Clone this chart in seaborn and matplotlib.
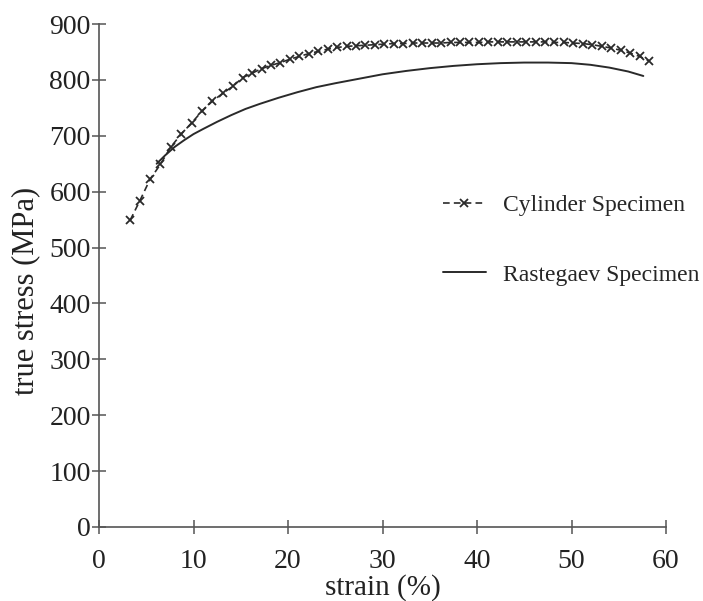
import matplotlib
matplotlib.use("Agg")
import matplotlib.pyplot as plt
import seaborn as sns
import pandas as pd

# Cylinder specimen (strain %, true stress MPa)
cyl_strain = [3.3, 4.3, 5.4, 6.5, 7.6, 8.7, 9.8, 10.9, 12.0, 13.1, 14.2, 15.2,
              16.2, 17.2, 18.2, 19.2, 20.2, 21.2, 22.2, 23.2, 24.2, 25.2, 26.2,
              27.2, 28.2, 29.2, 30.2, 31.2, 32.2, 33.2, 34.2, 35.2, 36.2, 37.2,
              38.2, 39.2, 40.2, 41.2, 42.2, 43.2, 44.2, 45.2, 46.2, 47.2, 48.2,
              49.2, 50.2, 51.2, 52.2, 53.2, 54.2, 55.2, 56.2, 57.2, 58.2]
cyl_stress = [549, 583, 622, 649, 680, 703, 723, 744, 762, 776, 789, 804,
              812, 820, 826, 831, 837, 842, 847, 851, 855, 858, 860,
              861, 862, 863, 864, 865, 865, 866, 866, 866, 866, 867,
              867, 867, 867, 868, 868, 868, 868, 868, 868, 868, 867,
              867, 866, 865, 863, 860, 857, 853, 848, 842, 834]

# Rastegaev specimen
ras_strain = [6.1, 7, 8, 9, 10, 11, 12.5, 14, 15.5, 17, 19, 21, 23, 25, 27.5,
              30, 32.5, 35, 37.5, 40, 42.5, 45, 47.5, 50, 52, 54, 56, 57.6]
ras_stress = [650, 665, 680, 692, 703, 712, 725, 737, 748, 757, 768, 778, 787,
              794, 802, 810, 816, 821, 825, 828, 830, 831, 831, 830, 827, 822,
              815, 807]

x_ticks = [0, 10, 20, 30, 40, 50, 60]
y_ticks = [0, 100, 200, 300, 400, 500, 600, 700, 800, 900]

sns.set_style("ticks")
plt.rcParams['font.family'] = ['Liberation Serif', 'DejaVu Serif']

cyl = pd.DataFrame({"strain": cyl_strain, "stress": cyl_stress})
ras = pd.DataFrame({"strain": ras_strain, "stress": ras_stress})

fig = plt.figure(figsize=(7.03, 6.01), dpi=100)
ax = fig.add_axes([99/703, 1-527/601, (666-99)/703, (527-24)/601])

sns.lineplot(data=cyl, x="strain", y="stress", ax=ax, color="#2a2a2a",
             linestyle=(0, (4, 2.5)), linewidth=1.2, marker="x", markersize=5.5,
             markeredgewidth=1.3, markeredgecolor="#2a2a2a",
             label="Cylinder Specimen")
sns.lineplot(data=ras, x="strain", y="stress", ax=ax, color="#2a2a2a",
             linestyle="-", linewidth=1.4, label="Rastegaev Specimen")

ax.set_xlim(0, 60)
ax.set_ylim(0, 900)
ax.set_xticks(x_ticks)
ax.set_yticks(y_ticks)
ax.set_xticklabels([str(v) for v in x_ticks])
ax.set_yticklabels([str(v) for v in y_ticks])
for s in ["top", "right"]:
    ax.spines[s].set_visible(False)
for s in ["left", "bottom"]:
    ax.spines[s].set_color("#555555")
    ax.spines[s].set_linewidth(1.2)
ax.tick_params(direction="inout", length=10, width=1.1, color="#555555",
               labelsize=20, labelcolor="#222222")
ax.tick_params(axis="x", pad=11)
ax.tick_params(axis="y", pad=1)
ax.set_xlabel("strain (%)", fontsize=21, color="#222222")
ax.set_ylabel("true stress (MPa)", fontsize=22, color="#222222")
ax.xaxis.set_label_coords(0.5, (527 - 574) / 503, transform=ax.transAxes)
ax.yaxis.set_label_coords((40 - 99) / 567, (527 - 291) / 503, transform=ax.transAxes)

leg = ax.legend(loc="center left", bbox_to_anchor=(443/703, 1-240/601),
                bbox_transform=fig.transFigure, frameon=False, fontsize=17,
                handlelength=1.8, handletextpad=0.75, labelspacing=2.05,
                borderpad=0, borderaxespad=0)

fig.savefig("out.png", dpi=100)
